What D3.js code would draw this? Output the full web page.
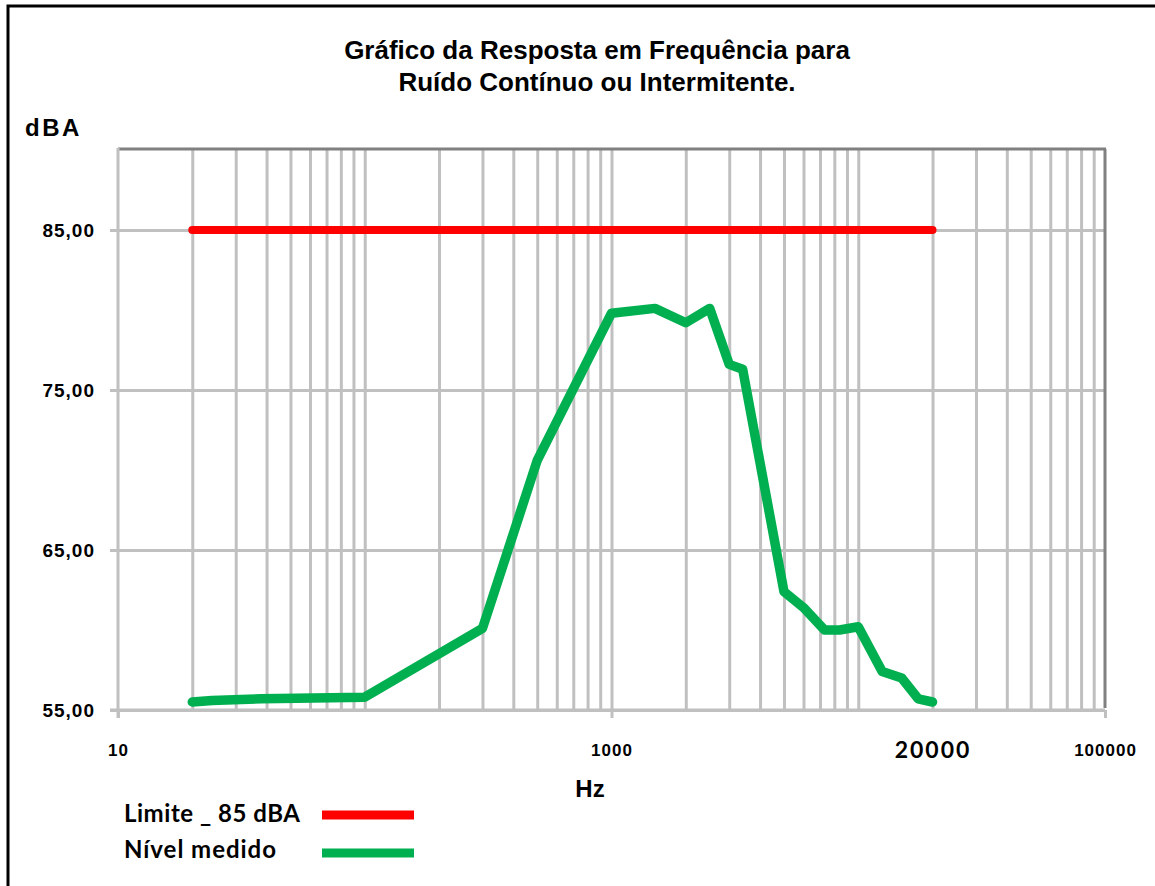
<!DOCTYPE html>
<html>
<head>
<meta charset="utf-8">
<script src="https://cdn.jsdelivr.net/npm/d3@7"></script>
<style>
  html, body { margin: 0; padding: 0; background: #ffffff; }
  svg { display: block; }
</style>
</head>
<body>
<svg id="chart" width="1155" height="886"></svg>
<script>
// ---------- data ----------
const titleLines = ["Gráfico da Resposta em Frequência para", "Ruído Contínuo ou Intermitente."];
const yAxisTitle = "dBA";
const xAxisTitle = "Hz";
const freqHz = [20, 24, 38, 62, 100, 300, 500, 1000, 1500, 2000, 2500, 3000, 3400, 5000, 6000, 7300, 8400, 10000, 12500, 15000, 17500, 20000];
const measured = [55.5, 55.6, 55.7, 55.75, 55.8, 60.1, 70.6, 79.8, 80.1, 79.2, 80.1, 76.6, 76.3, 62.4, 61.4, 60.0, 60.0, 60.2, 57.4, 57.0, 55.7, 55.5];
const limitFreq = [20, 20000];
const limitValue = [85, 85];
const yTicks = [55, 65, 75, 85];
const xTicksMain = [10, 1000, 100000];
const xTickExtra = [20000];
const legendLabels = ["Limite _ 85 dBA", "Nível medido"];
const seriesColors = ["#ff0000", "#00b050"];

// ---------- layout ----------
const svg = d3.select("#chart");
const pLeft = 118, pRight = 1105, pTop = 150, pBottom = 710;
const arial = "Liberation Sans, Arial, sans-serif";

const x = d3.scaleLog().domain([10, 100000]).range([pLeft, pRight]);
const y = d3.scaleLinear().domain([55, 90]).range([pBottom, pTop]);

// outer frame
svg.append("rect").attr("x", 8).attr("y", 6).attr("width", 1200).attr("height", 1000)
  .attr("fill", "none").attr("stroke", "#000").attr("stroke-width", 3);

// title
const title = svg.append("text").attr("text-anchor", "middle")
  .attr("font-family", arial).attr("font-weight", "bold")
  .attr("font-size", 26).attr("fill", "#000");
titleLines.forEach((t, i) => {
  title.append("tspan").attr("x", 597).attr("y", 59 + i * 32).text(t);
});

// grid: vertical (log minor)
const gridX = x.ticks().filter(v => v > 10 && v < 100000);
svg.append("g").attr("transform", `translate(0,${pBottom})`)
  .call(d3.axisBottom(x).tickValues(gridX).tickSize(-(pBottom - pTop)).tickFormat(""))
  .call(g => g.select(".domain").remove())
  .call(g => g.selectAll("line").attr("stroke", "#c0c0c0").attr("stroke-width", 3));

// grid: horizontal
svg.append("g").attr("transform", `translate(${pLeft},0)`)
  .call(d3.axisLeft(y).tickValues(yTicks).tickSize(-(pRight - pLeft)).tickFormat(""))
  .call(g => g.select(".domain").remove())
  .call(g => g.selectAll("line").attr("stroke", "#c0c0c0").attr("stroke-width", 3));

// plot frame: top & right darker
svg.append("line").attr("x1", pLeft).attr("x2", pRight + 1).attr("y1", pTop - 1).attr("y2", pTop - 1)
  .attr("stroke", "#808080").attr("stroke-width", 3);
svg.append("line").attr("x1", pRight).attr("x2", pRight).attr("y1", pTop - 1).attr("y2", pBottom - 2)
  .attr("stroke", "#808080").attr("stroke-width", 3);

// y axis
const fmt = v => d3.format(".2f")(v).replace(".", ",");
svg.append("g").attr("transform", `translate(${pLeft},0)`)
  .call(d3.axisLeft(y).tickValues(yTicks).tickSize(8).tickPadding(15).tickFormat(fmt))
  .call(g => g.select(".domain").attr("stroke", "#c0c0c0").attr("stroke-width", 3)
    .attr("d", `M0,${pTop - 2}V${pBottom + 8}`))
  .call(g => g.selectAll("line").attr("stroke", "#c0c0c0").attr("stroke-width", 3))
  .call(g => g.selectAll("text").attr("font-family", arial)
    .attr("font-weight", "bold").attr("font-size", 19).attr("letter-spacing", 1).attr("fill", "#000"));

// x axis
svg.append("g").attr("transform", `translate(0,${pBottom})`)
  .call(d3.axisBottom(x).tickValues(xTicksMain).tickSize(8).tickPadding(26).tickFormat(d3.format("d")))
  .call(g => g.select(".domain").attr("stroke", "#c0c0c0").attr("stroke-width", 3)
    .attr("d", `M${pLeft - 8},0H${pRight}`))
  .call(g => g.selectAll("line").attr("stroke", "#c0c0c0").attr("stroke-width", 3))
  .call(g => g.selectAll("text").attr("font-family", arial)
    .attr("font-weight", "bold").attr("font-size", 17).attr("letter-spacing", 1).attr("fill", "#000"));

svg.append("g").attr("transform", `translate(0,${pBottom})`)
  .call(d3.axisBottom(x).tickValues(xTickExtra).tickSize(0).tickPadding(32).tickFormat(d3.format("d")))
  .call(g => g.select(".domain").remove())
  .call(g => g.selectAll("text").attr("font-family", "Lato, sans-serif")
    .attr("font-weight", "bold").attr("font-size", 23).attr("letter-spacing", 2).attr("fill", "#000"));

// axis titles
svg.append("text").attr("x", 25).attr("y", 136).text(yAxisTitle)
  .attr("font-family", arial).attr("font-weight", "bold")
  .attr("font-size", 24).attr("letter-spacing", 2.5).attr("fill", "#000");
svg.append("text").attr("x", 590).attr("y", 797).attr("text-anchor", "middle").text(xAxisTitle)
  .attr("font-family", arial).attr("font-weight", "bold")
  .attr("font-size", 24).attr("fill", "#000");

// series
const line = d3.line().x(d => x(d[0])).y(d => y(d[1]));
svg.append("path").datum(d3.zip(limitFreq, limitValue)).attr("d", line)
  .attr("fill", "none").attr("stroke", seriesColors[0]).attr("stroke-width", 8)
  .attr("stroke-linecap", "round").attr("stroke-linejoin", "round");
svg.append("path").datum(d3.zip(freqHz, measured)).attr("d", line)
  .attr("fill", "none").attr("stroke", seriesColors[1]).attr("stroke-width", 9.5)
  .attr("stroke-linecap", "round").attr("stroke-linejoin", "round");

// legend
const legendWidths = [176, 152];
const lg = svg.append("g");
legendLabels.forEach((lab, i) => {
  const yy = 815 + i * 38;
  lg.append("text").attr("x", 124).attr("y", 822 + i * 36).text(lab)
    .attr("font-family", "Lato, sans-serif").attr("font-weight", "bold")
    .attr("font-size", 24).attr("textLength", legendWidths[i]).attr("lengthAdjust", "spacing")
    .attr("fill", "#000");
  lg.append("line").attr("x1", 322).attr("x2", 414).attr("y1", yy).attr("y2", yy)
    .attr("stroke", seriesColors[i]).attr("stroke-width", 9);
});
</script>
</body>
</html>
